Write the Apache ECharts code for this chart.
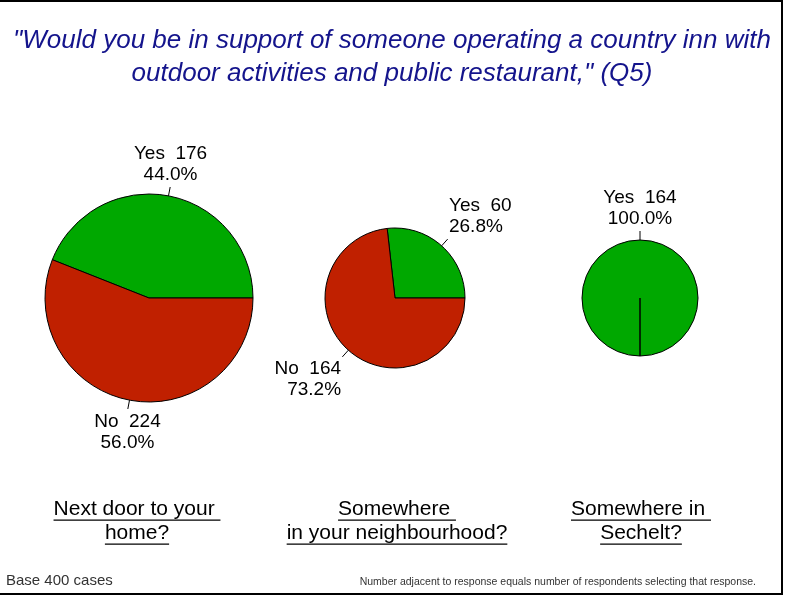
<!DOCTYPE html>
<html>
<head>
<meta charset="utf-8">
<script src="https://cdn.jsdelivr.net/npm/echarts@6/dist/echarts.min.js"></script>
<style>
  html, body { margin: 0; padding: 0; background: #fff; }
  #chart { width: 785px; height: 596px; }
</style>
</head>
<body>
<div id="chart"></div>
<script>
// Survey question and the three locations asked about
const titleLines = [
  '"Would you be in support of someone operating a country inn with',
  'outdoor activities and public restaurant," (Q5)'
];
const locations = [
  ['Next door to your ', 'home?'],
  ['Somewhere ', 'in your neighbourhood?'],
  ['Somewhere in ', 'Sechelt?']
];
const answers = ['Yes', 'No'];
const yesCounts = [176, 60, 164];
const noCounts = [224, 164, 0];
const baseNote = 'Base 400 cases';
const countNote = 'Number adjacent to response equals number of respondents selecting that response.';

const FONT = '"Liberation Sans", Arial, Helvetica, sans-serif';
const GREEN = '#00a800';
const RED = '#c02000';

// Layout of each pie: centre, radius, angle where the first slice starts
const pieLayout = [
  { center: [149, 298], radius: 104, startAngle: 0 },
  { center: [395, 298], radius: 70, startAngle: 0 },
  { center: [640, 298], radius: 58, startAngle: 270 }
];
const captionX = [137, 397, 641];
const captionY = [509, 533];
const captionFontSize = 21;

const chart = echarts.init(document.getElementById('chart'), null, { renderer: 'canvas' });

// Measure text so captions can be underlined
const measureCtx = document.createElement('canvas').getContext('2d');
function textWidth(str, size) {
  measureCtx.font = size + 'px ' + FONT;
  return measureCtx.measureText(str).width;
}

// Put each label centred over (or beside) the end of its leader line
function placeLabel(params) {
  const pts = params.labelLinePoints;
  if (!pts) return {};
  const p0 = pts[0], p1 = pts[1];
  const dx = p1[0] - p0[0], dy = p1[1] - p0[1];
  const len = Math.hypot(dx, dy) || 1;
  const ux = dx / len, uy = dy / len;
  const align = Math.abs(ux) < 0.4 ? 'center' : (ux > 0 ? 'left' : 'right');
  const verticalAlign = uy < 0 ? 'bottom' : 'top';
  return {
    x: p1[0] + ux * 2,
    y: p1[1] + uy * 2,
    align: align,
    verticalAlign: verticalAlign,
    labelLinePoints: [p0, p1, p1]
  };
}

const series = pieLayout.map(function (pl, i) {
  const counts = [yesCounts[i], noCounts[i]];
  return {
    type: 'pie',
    center: pl.center,
    radius: pl.radius,
    startAngle: pl.startAngle,
    clockwise: false,
    avoidLabelOverlap: false,
    percentPrecision: 1,
    silent: true,
    itemStyle: { borderColor: '#000', borderWidth: 1 },
    label: {
      show: true,
      position: 'outside',
      color: '#000',
      fontFamily: FONT,
      fontSize: 19,
      lineHeight: 21,
      formatter: function (p) {
        return p.name + '  ' + p.value + '\n' + p.percent.toFixed(1) + '%';
      }
    },
    labelLine: {
      show: true,
      length: 9,
      length2: 0,
      smooth: false,
      lineStyle: { color: '#000', width: 1 }
    },
    labelLayout: placeLabel,
    data: answers.map(function (name, k) {
      const item = {
        name: name,
        value: counts[k],
        itemStyle: { color: k === 0 ? GREEN : RED }
      };
      if (counts[k] === 0) {
        item.label = { show: false };
        item.labelLine = { show: false };
      }
      return item;
    })
  };
});

// Title, underlined captions, footnotes and frame
const graphics = [
  {
    type: 'rect',
    shape: { x: -2, y: 1, width: 784, height: 593 },
    style: { fill: null, stroke: '#000', lineWidth: 2 },
    silent: true
  }
];
titleLines.forEach(function (line, i) {
  graphics.push({
    type: 'text',
    x: 392,
    y: 41 + i * 33,
    style: {
      text: line,
      align: 'center',
      verticalAlign: 'middle',
      font: 'italic 26px ' + FONT,
      fill: '#14148c'
    }
  });
});
locations.forEach(function (lines, i) {
  lines.forEach(function (line, j) {
    const w = textWidth(line, captionFontSize);
    graphics.push({
      type: 'text',
      x: captionX[i],
      y: captionY[j],
      style: {
        text: line,
        align: 'center',
        verticalAlign: 'middle',
        font: captionFontSize + 'px ' + FONT,
        fill: '#000'
      }
    });
    graphics.push({
      type: 'rect',
      shape: { x: captionX[i] - w / 2, y: captionY[j] + 10.5, width: w, height: 1.2 },
      style: { fill: '#000' }
    });
  });
});
graphics.push({
  type: 'text',
  x: 6,
  y: 581,
  style: { text: baseNote, align: 'left', verticalAlign: 'middle', font: '15px ' + FONT, fill: '#333' }
});
graphics.push({
  type: 'text',
  x: 756,
  y: 582,
  style: { text: countNote, align: 'right', verticalAlign: 'middle', font: '10.5px ' + FONT, fill: '#333' }
});

chart.setOption({
  animation: false,
  backgroundColor: '#fff',
  series: series,
  graphic: graphics
});
</script>
</body>
</html>
